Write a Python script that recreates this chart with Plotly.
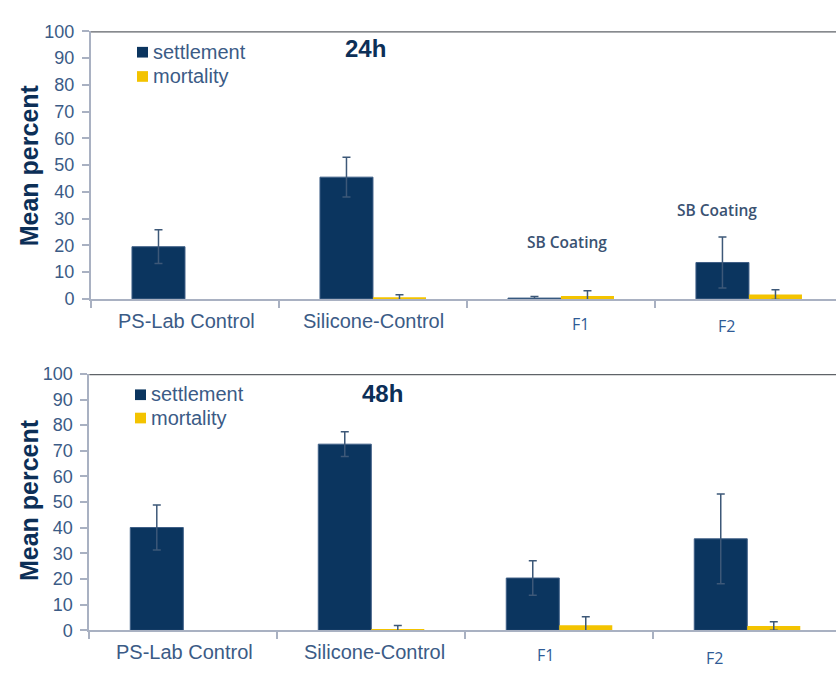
import plotly.graph_objects as go

# Treatments and measured means (%) with error bars
categories = ["PS-Lab Control", "Silicone-Control", "F1", "F2"]
category_labels = ["PS-Lab Control", "Silicone-Control", "F1", "F2"]

settlement_24h = [19.5, 45.5, 0.3, 13.6]
settlement_24h_err = [6.3, 7.4, 0.6, 9.5]
mortality_24h = [None, 0.5, 1.1, 1.6]
mortality_24h_err = [0, 1.0, 1.9, 1.8]

settlement_48h = [40.1, 72.6, 20.4, 35.7]
settlement_48h_err = [8.8, 4.8, 6.7, 17.5]
mortality_48h = [None, 0.5, 2.0, 1.7]
mortality_48h_err = [0, 1.4, 3.3, 1.7]

y_ticks = [0, 10, 20, 30, 40, 50, 60, 70, 80, 90, 100]

NAVY = "#0b355f"
GOLD = "#f3c300"
ERR = "#3d5878"
TICK_TXT = "#3b5b86"
AXIS_GRAY = "#a9b1c2"
W, H = 836, 675

fig = go.Figure()


def add_panel(settle, settle_err, mort, mort_err, xa, ya):
    fig.add_trace(go.Bar(
        x=categories, y=settle, name="settlement",
        marker=dict(color=NAVY, line=dict(color="#3f5f86", width=1)),
        error_y=dict(type="data", array=settle_err, color=ERR, thickness=1.5, width=4),
        xaxis=xa, yaxis=ya, showlegend=False,
    ))
    fig.add_trace(go.Bar(
        x=categories, y=mort, name="mortality",
        marker=dict(color=GOLD, line=dict(width=0)),
        error_y=dict(type="data", array=mort_err, color=ERR, thickness=1.5, width=4),
        xaxis=xa, yaxis=ya, showlegend=False,
    ))


add_panel(settlement_24h, settlement_24h_err, mortality_24h, mortality_24h_err, "x", "y")
add_panel(settlement_48h, settlement_48h_err, mortality_48h, mortality_48h_err, "x2", "y2")


def px_x(v):
    return v / W


def px_y(v):
    return 1 - v / H


xaxis_common = dict(
    type="category", categoryorder="array", categoryarray=categories,
    tickson="boundaries", ticks="outside", ticklen=7, tickcolor=AXIS_GRAY, tickwidth=1.5,
    showticklabels=False, showline=True, linecolor=AXIS_GRAY, linewidth=2,
    showgrid=False, zeroline=False, fixedrange=True,
)
yaxis_common = dict(
    range=[0, 100], tickvals=y_ticks, ticks="outside", ticklen=7, tickcolor=AXIS_GRAY,
    tickwidth=1.5, showline=True, linecolor=AXIS_GRAY, linewidth=2, showgrid=False,
    zeroline=False, ticklabelstandoff=4,
    tickfont=dict(family="Liberation Sans, Arial", size=18, color=TICK_TXT),
)

fig.update_layout(
    width=W, height=H,
    margin=dict(l=0, r=0, t=0, b=0),
    paper_bgcolor="white", plot_bgcolor="white",
    barmode="group", bargap=0.436, bargroupgap=0,
    xaxis=dict(xaxis_common, domain=[px_x(91), 1.0], range=[-0.5, 3.463], anchor="y"),
    yaxis=dict(yaxis_common, domain=[px_y(297.7), px_y(22)], anchor="x"),
    xaxis2=dict(xaxis_common, domain=[px_x(89.3), 1.0], range=[-0.5, 3.472], anchor="y2"),
    yaxis2=dict(yaxis_common, domain=[px_y(639.3), px_y(375)], anchor="x2"),
    showlegend=False,
)

# dark frame line along the top of each panel
for xa, ya in (("x", "y"), ("x2", "y2")):
    fig.add_shape(type="line", xref=f"{xa} domain", yref=ya, x0=0, x1=1, y0=100, y1=100,
                  line=dict(color="#5f6368", width=2.5), layer="above")

annotations = []

# category labels under each panel
label_font_main = dict(family="Liberation Sans, Arial", size=20, color=TICK_TXT)
label_font_f = dict(family="Open Sans", size=16, color="#2f5b96")
top_label_pos = [(186, 321), (373, 321), (580, 324), (726, 326)]
bot_label_pos = [(184, 662), (374, 662), (545, 665), (714, 668)]
for pos in (top_label_pos, bot_label_pos):
    for i, (lx, ly) in enumerate(pos):
        annotations.append(dict(
            x=px_x(lx), y=px_y(ly), xref="paper", yref="paper", text=category_labels[i],
            showarrow=False, xanchor="center", yanchor="middle",
            font=label_font_main if i < 2 else label_font_f,
        ))

# y-axis titles
for ty in (160, 505):
    annotations.append(dict(
        x=px_x(29), y=px_y(ty), xref="paper", yref="paper", text="Mean percent",
        textangle=-90, showarrow=False, xanchor="center", yanchor="middle",
        font=dict(family="Liberation Sans, Arial", size=25, color="#0c2f57", weight="bold"),
    ))

# panel time labels
for txt, tx, ty in (("24h", 365, 40), ("48h", 382, 395)):
    annotations.append(dict(
        x=px_x(tx), y=px_y(ty), xref="paper", yref="paper", text=txt, showarrow=False,
        xanchor="center", yanchor="middle",
        font=dict(family="Liberation Sans, Arial", size=24, color="#0c2f57", weight="bold"),
    ))

# coating notes in the 24h panel
for tx, ty in ((567, 239), (717, 206)):
    annotations.append(dict(
        x=px_x(tx), y=px_y(ty), xref="paper", yref="paper", text="SB Coating",
        showarrow=False, xanchor="center", yanchor="middle",
        font=dict(family="Open Sans", size=15.5, color="#3a5272", weight=600),
    ))

# legend keys (square swatch + label) for each panel
legend_rows = [
    (43, NAVY, "settlement"), (68, GOLD, "mortality"),
    (396, NAVY, "settlement"), (420, GOLD, "mortality"),
]
for i, (ly, col, txt) in enumerate(legend_rows):
    sx = 137 if i < 2 else 135
    fig.add_shape(type="rect", xref="paper", yref="paper",
                  x0=px_x(sx), x1=px_x(sx + 11), y0=px_y(ly - 5), y1=px_y(ly + 6),
                  fillcolor=col, line=dict(width=0))
    annotations.append(dict(
        x=px_x(sx + 14), y=px_y(ly), xref="paper", yref="paper", text=txt,
        showarrow=False, xanchor="left", yanchor="middle",
        font=dict(family="Liberation Sans, Arial", size=20, color=TICK_TXT),
    ))

fig.update_layout(annotations=annotations)

fig.write_html("out.html")
